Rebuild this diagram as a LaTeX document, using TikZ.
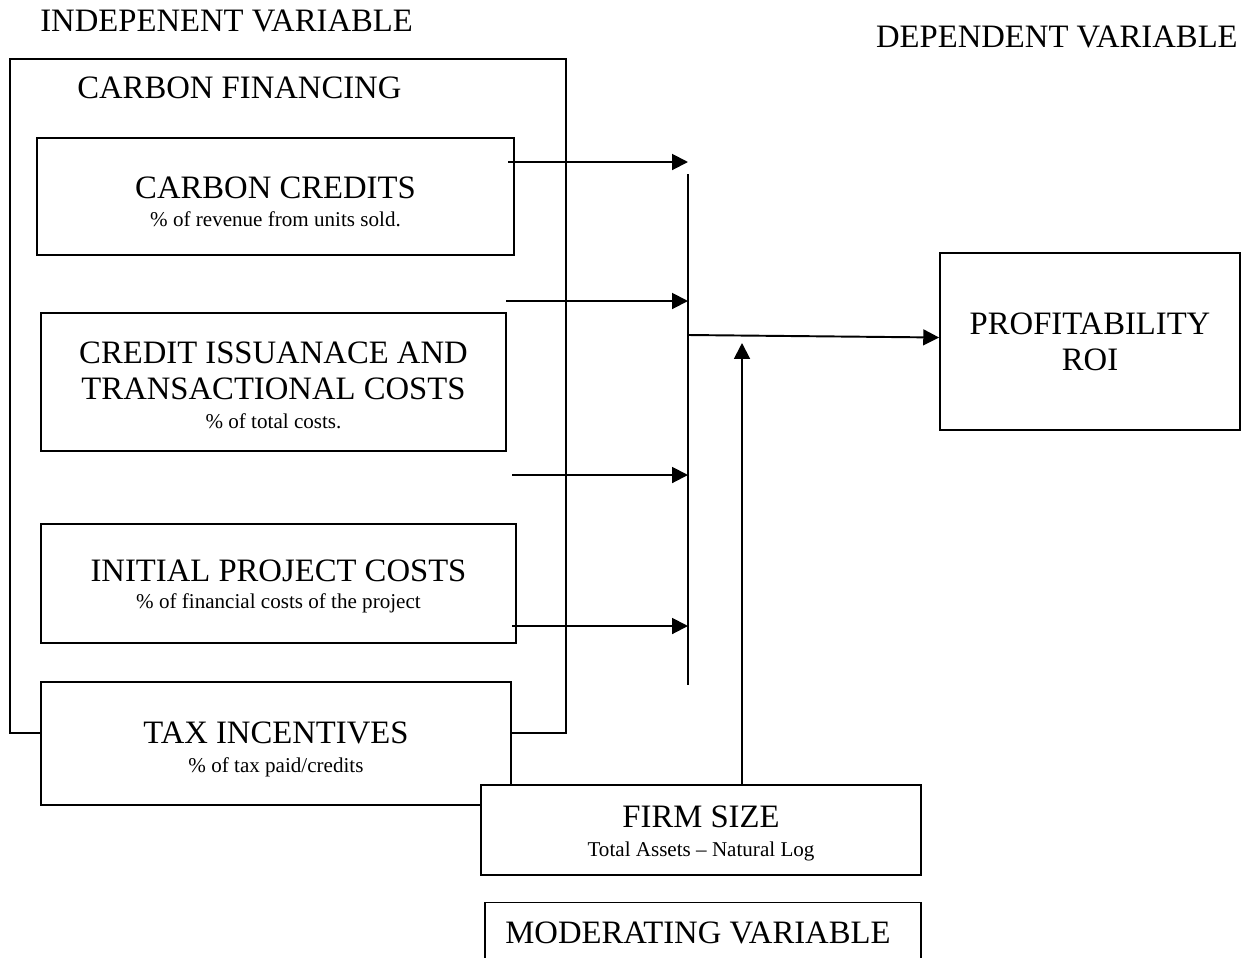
\documentclass[tikz,border=0pt]{standalone}
\usepackage{fontspec}
\setmainfont{Liberation Serif}
\usepackage{tikz}
\usetikzlibrary{arrows.meta,calc}
\newcommand{\bigsize}{\fontsize{18.6}{20.5}\selectfont}
\newcommand{\subsize}{\fontsize{12}{14}\selectfont}
\tikzstyle{box} = [rectangle, draw, line width=1.1pt, fill=white,
    align=center, font=\bigsize, inner sep=0pt]
\tikzstyle{line} = [draw, line width=1.1pt, -{Triangle[length=9pt,width=9pt]}]
\tikzstyle{title} = [font=\bigsize, inner sep=0pt]

\begin{document}
\begin{tikzpicture}[x=0.02cm,y=-0.02cm]
    \clip (0,0) rectangle (1256,957);
    % Place nodes
    \node[title, anchor=west] (indep) at (40,21) {INDEPENENT VARIABLE};
    \node[title, anchor=east] (dep) at (1238,37) {DEPENDENT VARIABLE};
    \node[box, minimum width=11.12cm, minimum height=13.5cm] (fin) at (288,396) {};
    \node[title, anchor=west] (finlabel) at (77,88) {CARBON FINANCING};
    \node[box, minimum width=9.54cm, minimum height=2.34cm] (cc) at (275.5,196.5) {};
    \node[title, align=center] at ($(cc.center)+(0,5)$)
        {CARBON CREDITS\\[-4.5pt]{\subsize \% of revenue from units sold.}};
    \node[box, minimum width=9.3cm, minimum height=2.76cm] (cit) at (273.5,382) {};
    \node[title, align=center] at ($(cit.center)+(0,3)$)
        {CREDIT ISSUANACE AND\\TRANSACTIONAL COSTS\\[-4pt]{\subsize \% of total costs.}};
    \node[box, minimum width=9.5cm, minimum height=2.38cm] (ipc) at (278.5,583.5) {};
    \node[title, align=center] at ($(ipc.center)+(0,3)$)
        {INITIAL PROJECT COSTS\\[-5.5pt]{\subsize \% of financial costs of the project}};
    \node[box, minimum width=9.4cm, minimum height=2.46cm] (tax) at (276,743.5) {};
    \node[title, align=center] at ($(tax.center)+(0,5.5)$)
        {TAX INCENTIVES\\[-4pt]{\subsize \% of tax paid/credits}};
    \node[box, minimum width=6cm, minimum height=3.54cm] (roi) at (1090,341.5)
        {PROFITABILITY\\ROI};
    \node[box, minimum width=8.8cm, minimum height=1.8cm] (firm) at (701,830) {};
    \node[title, align=center] at ($(firm.center)+(0,3)$)
        {FIRM SIZE\\[-4pt]{\subsize Total Assets -- Natural Log}};
    \node[box, minimum width=8.72cm, minimum height=1.5cm] (mod) at (703,940) {};
    \node[title, anchor=west] (modlabel) at (505,933) {MODERATING VARIABLE};
    % Bar and arrow starts
    \coordinate (bartop) at (688,174);
    \coordinate (barbot) at (688,685);
    \coordinate (join) at (688,335);
    \coordinate (s1) at (508,162);
    \coordinate (s2) at (506,301);
    \coordinate (s3) at (512,475);
    \coordinate (s4) at (512,626);
    \coordinate (tip) at (742,343);
    % Draw edges
    \draw[line width=0.6pt] (bartop) -- (barbot);
    \path [line] (s1) -- (s1 -| bartop);
    \path [line] (s2) -- (s2 -| bartop);
    \path [line] (s3) -- (s3 -| bartop);
    \path [line] (s4) -- (s4 -| bartop);
    \path [line] (join) -- ($(roi.west)+(0,-4)$);
    \path [line] (tip |- firm.north) -- (tip);
\end{tikzpicture}
\end{document}
